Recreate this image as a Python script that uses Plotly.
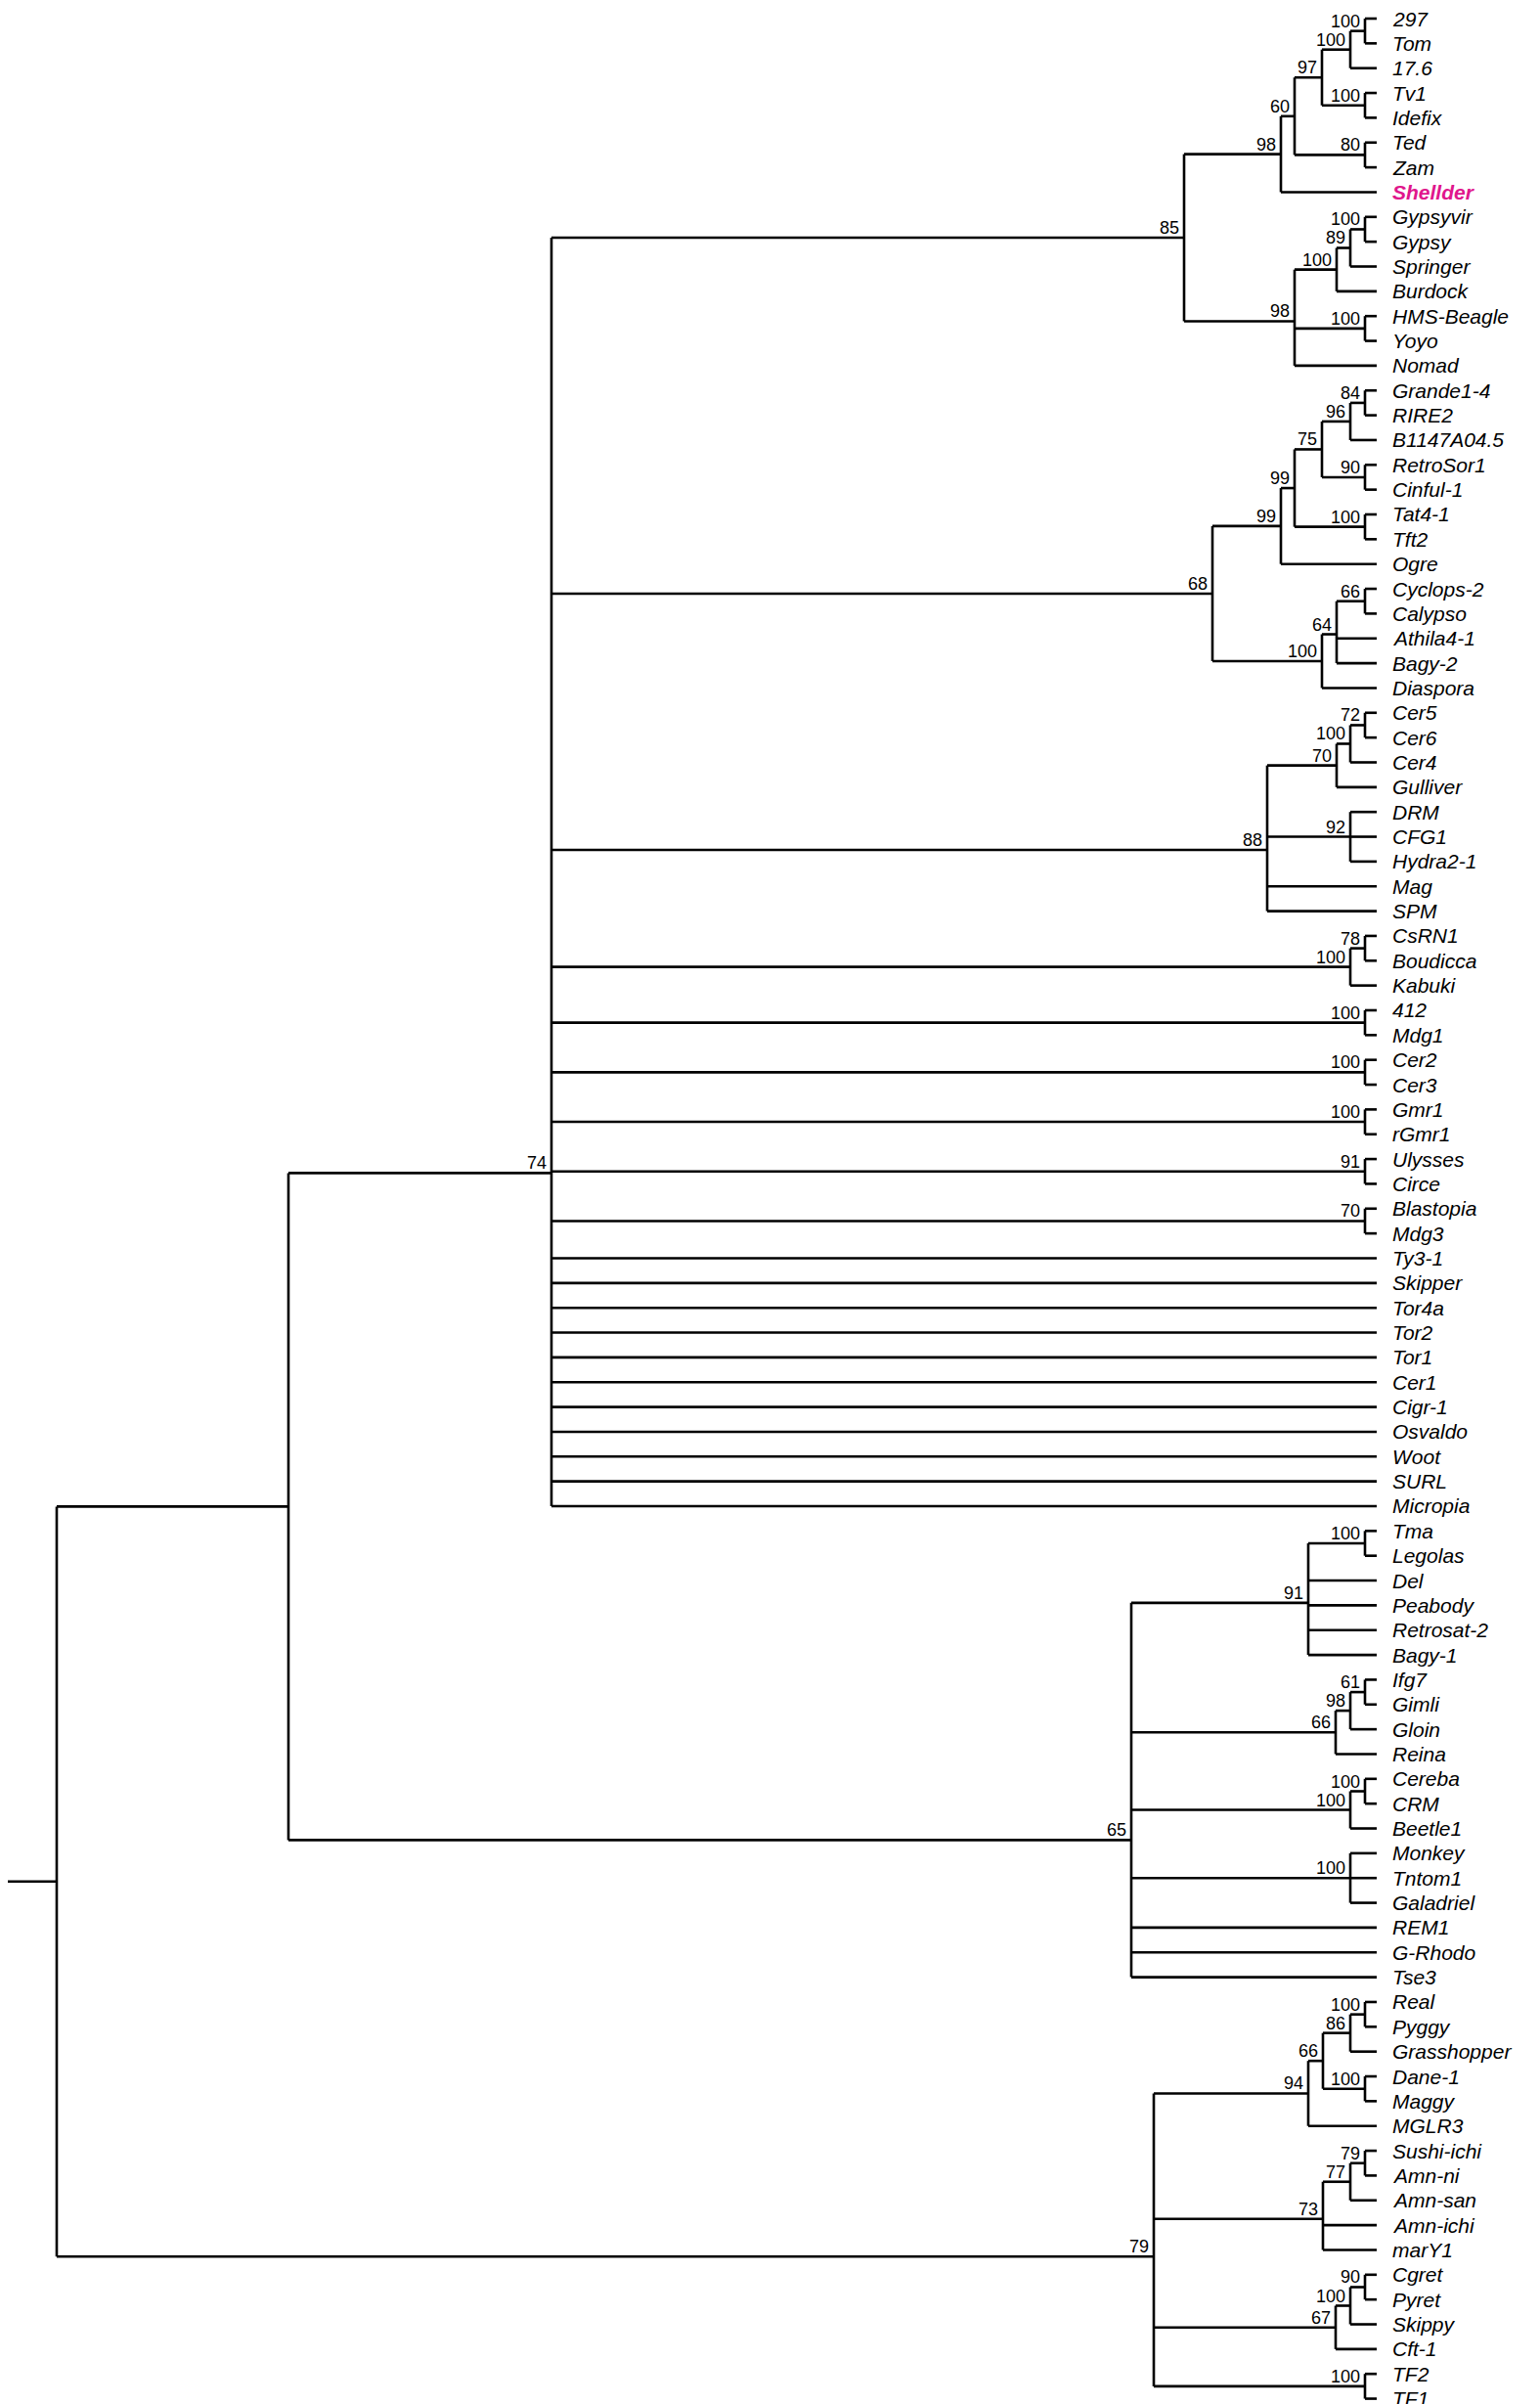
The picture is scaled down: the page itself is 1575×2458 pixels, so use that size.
import plotly.graph_objects as go

# clades in newick form; internal nodes carry "support:x" where x is the
# horizontal position of the node (pixels of the original figure)
c85 = ("((((((297,Tom)100:1388,17.6)100:1373,(Tv1,Idefix)100:1388)97:1344,"
       "(Ted,Zam)80:1388)60:1316,Shellder)98:1302,"
       "((((Gypsyvir,Gypsy)100:1388,Springer)89:1373,Burdock)100:1359,"
       "(HMS-Beagle,Yoyo)100:1388,Nomad)98:1316)85:1203")
c68 = ("((((((Grande1-4,RIRE2)84:1388,B1147A04.5)96:1373,(RetroSor1,Cinful-1)90:1388)75:1344,"
       "(Tat4-1,Tft2)100:1388)99:1316,Ogre)99:1302,"
       "(((Cyclops-2,Calypso)66:1388,Athila4-1,Bagy-2)64:1359,Diaspora)100:1344)68:1232")
c88 = ("((((Cer5,Cer6)72:1388,Cer4)100:1373,Gulliver)70:1359,"
       "(DRM,CFG1,Hydra2-1)92:1373,Mag,SPM)88:1288")
c74 = ("(" + c85 + "," + c68 + "," + c88 + ","
       "((CsRN1,Boudicca)78:1388,Kabuki)100:1373,"
       "(412,Mdg1)100:1388,(Cer2,Cer3)100:1388,(Gmr1,rGmr1)100:1388,"
       "(Ulysses,Circe)91:1388,(Blastopia,Mdg3)70:1388,"
       "Ty3-1,Skipper,Tor4a,Tor2,Tor1,Cer1,Cigr-1,Osvaldo,Woot,SURL,Micropia)74:556")
c91 = "((Tma,Legolas)100:1388,Del,Peabody,Retrosat-2,Bagy-1)91:1330"
c66 = "(((Ifg7,Gimli)61:1388,Gloin)98:1373,Reina)66:1358"
c65 = ("(" + c91 + "," + c66 + ",((Cereba,CRM)100:1388,Beetle1)100:1373,"
       "(Monkey,Tntom1,Galadriel)100:1373,REM1,G-Rhodo,Tse3)65:1149")
c94 = "((((Real,Pyggy)100:1388,Grasshopper)86:1373,(Dane-1,Maggy)100:1388)66:1345,MGLR3)94:1330"
c73 = "(((Sushi-ichi,Amn-ni)79:1388,Amn-san)77:1373,Amn-ichi,marY1)73:1345"
c67 = "(((Cgret,Pyret)90:1388,Skippy)100:1373,Cft-1)67:1358"
c79 = "(" + c94 + "," + c73 + "," + c67 + ",(TF2,TF1)100:1388)79:1172"
newick = "((" + c74 + "," + c65 + "):287," + c79 + "):50"

leaf_x = 1400
root_stub_x = 0
highlight = "Shellder"


def parse(s, i=0):
    if s[i] == "(":
        kids = []
        i += 1
        while True:
            k, i = parse(s, i)
            kids.append(k)
            if s[i] == ",":
                i += 1
            else:
                i += 1  # ')'
                break
        lab = ""
        while i < len(s) and s[i] not in ",)":
            lab += s[i]
            i += 1
        sup, x = lab.split(":")
        return {"kids": kids, "sup": sup, "x": float(x)}, i
    name = ""
    while i < len(s) and s[i] not in ",)":
        name += s[i]
        i += 1
    return {"name": name, "x": leaf_x}, i


tree, _ = parse(newick)
leaves = []


def place(n):
    if "name" in n:
        leaves.append(n["name"])
        n["y"] = len(leaves)
    else:
        for k in n["kids"]:
            place(k)
        n["y"] = sum(k["y"] for k in n["kids"]) / len(n["kids"])


place(tree)

xs, ys = [], []
sup_x, sup_y, sup_t = [], [], []


def draw(n, px):
    xs.extend([px, n["x"], None])
    ys.extend([n["y"], n["y"], None])
    if "kids" in n:
        xs.extend([n["x"], n["x"], None])
        ys.extend([n["kids"][0]["y"], n["kids"][-1]["y"], None])
        if n["sup"]:
            sup_x.append(n["x"])
            sup_y.append(n["y"])
            sup_t.append(n["sup"])
        for k in n["kids"]:
            draw(k, n["x"])


draw(tree, root_stub_x)

fig = go.Figure()
fig.add_trace(go.Scatter(x=xs, y=ys, mode="lines",
                         line=dict(color="black", width=2.6), hoverinfo="skip"))

for x, y, t in zip(sup_x, sup_y, sup_t):
    fig.add_annotation(x=x, y=y, text=t, showarrow=False, xanchor="right",
                       yanchor="bottom", xshift=-3, yshift=-2,
                       font=dict(family="Liberation Sans", size=18, color="black"))

for i, name in enumerate(leaves):
    if name == highlight:
        txt, col = "<b><i>%s</i></b>" % name, "#E0168C"
    else:
        txt, col = "<i>%s</i>" % name, "black"
    fig.add_annotation(x=leaf_x, y=i + 1, text=txt, showarrow=False,
                       xanchor="left", yanchor="middle", xshift=14,
                       font=dict(family="Liberation Sans", size=21, color=col))

fig.update_xaxes(range=[0, 1575], visible=False)
fig.update_yaxes(range=[97.53, 0.566], visible=False)
fig.update_layout(width=1575, height=2458, margin=dict(l=0, r=0, t=0, b=0),
                  plot_bgcolor="white", paper_bgcolor="white", showlegend=False)
fig.write_html("out.html")
